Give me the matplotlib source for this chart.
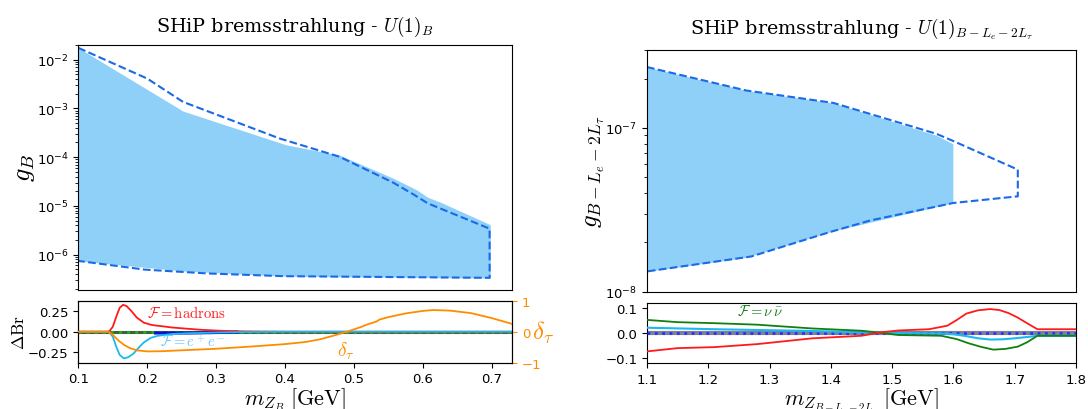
import numpy as np
import matplotlib
matplotlib.use("Agg")
import matplotlib.pyplot as plt

plt.rcParams['mathtext.fontset'] = 'cm'
plt.rcParams['font.family'] = ['DejaVu Sans']

# ---------------- data: left panel (U(1)_B) ----------------
ub_dash_m = [0.100, 0.200, 0.252, 0.392, 0.479, 0.557, 0.587, 0.607, 0.697]
ub_dash_g = [1.75e-2, 4.1e-3, 1.36e-3, 2.42e-4, 1.02e-4, 3.0e-5, 1.7e-5, 1.13e-5, 3.4e-6]
lb_dash_m = [0.697, 0.397, 0.287, 0.197, 0.100]
lb_dash_g = [3.33e-7, 3.6e-7, 4.1e-7, 4.9e-7, 7.4e-7]

fill_m = [0.100, 0.252, 0.402, 0.479, 0.557, 0.592, 0.607, 0.625, 0.698]
fill_up = [1.75e-2, 8.8e-4, 1.78e-4, 1.1e-4, 3.7e-5, 2.1e-5, 1.5e-5, 1.2e-5, 4.1e-6]
fill_lo = [7.4e-7, 4.6e-7, 3.6e-7, 3.5e-7, 3.45e-7, 3.4e-7, 3.4e-7, 3.35e-7, 3.3e-7]

had_m = [0.10, 0.140, 0.145, 0.150, 0.155, 0.160, 0.165, 0.170, 0.177, 0.185, 0.195,
         0.205, 0.212, 0.220, 0.235, 0.255, 0.280, 0.310, 0.340, 0.400, 0.730]
had_dbr = [0, 0, 0.005, 0.06, 0.18, 0.29, 0.325, 0.31, 0.25, 0.17, 0.11,
           0.085, 0.075, 0.068, 0.052, 0.038, 0.022, 0.010, 0.004, 0.0, 0.0]

ee_m = [0.10, 0.140, 0.145, 0.150, 0.155, 0.160, 0.166, 0.172, 0.180, 0.188, 0.195,
        0.205, 0.215, 0.235, 0.260, 0.300, 0.340, 0.400, 0.730]
ee_dbr = [0, 0, -0.005, -0.06, -0.18, -0.28, -0.322, -0.31, -0.265, -0.19, -0.13,
          -0.075, -0.05, -0.028, -0.018, -0.010, -0.004, 0, 0]

nu_m_left = [0.212, 0.260, 0.300, 0.330]
nu_dbr_left = [-0.016, -0.016, -0.010, -0.003]

dtau_m = [0.10, 0.143, 0.150, 0.158, 0.166, 0.175, 0.185, 0.200, 0.220, 0.250, 0.300,
          0.350, 0.400, 0.430, 0.450, 0.470, 0.490, 0.510, 0.520, 0.533, 0.537, 0.550,
          0.575, 0.600, 0.615, 0.640, 0.670, 0.700, 0.730]
dtau = [0, 0, -0.10, -0.28, -0.42, -0.53, -0.60, -0.635, -0.63, -0.60, -0.55,
        -0.48, -0.40, -0.33, -0.25, -0.13, 0.0, 0.15, 0.24, 0.33, 0.39, 0.47,
        0.59, 0.67, 0.70, 0.68, 0.60, 0.44, 0.25]

# ---------------- data: right panel (U(1)_{B-Le-2Ltau}) ----------------
r_ub_m = [1.100, 1.262, 1.404, 1.572, 1.600, 1.705]
r_ub_g = [2.35e-7, 1.69e-7, 1.42e-7, 9.2e-8, 8.3e-8, 5.56e-8]
r_lb_m = [1.705, 1.600, 1.464, 1.398, 1.270, 1.100]
r_lb_g = [3.82e-8, 3.48e-8, 2.72e-8, 2.31e-8, 1.64e-8, 1.33e-8]

r_fill_m = [1.100, 1.262, 1.404, 1.572, 1.599]
r_fill_up = [2.35e-7, 1.69e-7, 1.42e-7, 9.0e-8, 8.0e-8]
r_fill_lo = [1.33e-8, 1.62e-8, 2.35e-8, 3.3e-8, 3.48e-8]

r_nu_m = [1.10, 1.15, 1.21, 1.28, 1.37, 1.45, 1.48, 1.51, 1.58, 1.605, 1.625, 1.645,
          1.665, 1.685, 1.705, 1.72, 1.737, 1.80]
r_nu = [0.051, 0.042, 0.038, 0.032, 0.017, 0.008, 0.0, -0.009, -0.012, -0.025, -0.042,
        -0.056, -0.067, -0.064, -0.055, -0.038, -0.012, -0.012]

r_had_m = [1.10, 1.15, 1.21, 1.28, 1.37, 1.45, 1.48, 1.51, 1.56, 1.59, 1.605, 1.621,
           1.64, 1.66, 1.675, 1.69, 1.705, 1.72, 1.737, 1.80]
r_had = [-0.074, -0.061, -0.057, -0.045, -0.022, -0.012, 0.001, 0.009, 0.014, 0.028,
         0.05, 0.076, 0.089, 0.094, 0.09, 0.078, 0.06, 0.038, 0.014, 0.014]

r_ee_m = [1.10, 1.21, 1.37, 1.48, 1.58, 1.60, 1.62, 1.64, 1.66, 1.68, 1.70, 1.72, 1.737, 1.80]
r_ee = [0.020, 0.014, 0.007, 0.0, -0.003, -0.006, -0.013, -0.022, -0.027, -0.026,
        -0.022, -0.017, -0.012, -0.012]

left_xticks = [0.1, 0.2, 0.3, 0.4, 0.5, 0.6, 0.7]
right_xticks = [1.1, 1.2, 1.3, 1.4, 1.5, 1.6, 1.7, 1.8]

# ---------------- styles ----------------
FILL = '#8fd0f8'
DASH = '#1a6ae8'
RED = '#ff1a1a'
CYAN = '#1cb8f2'
ORANGE = '#ff8c00'
GREEN = '#118011'

fig = plt.figure(figsize=(10.88, 4.10), dpi=100)
axL = fig.add_axes([0.0720, 0.2910, 0.3989, 0.5975])
axLb = fig.add_axes([0.0720, 0.1129, 0.3989, 0.1512])
axR = fig.add_axes([0.5947, 0.2861, 0.3943, 0.5903])
axRb = fig.add_axes([0.5947, 0.1122, 0.3943, 0.1463])

TICKFS = 9.5
serif = {'family': 'DejaVu Serif', 'size': 13.8}

# ---- left top ----
axL.fill_between(fill_m, fill_lo, fill_up, color=FILL, lw=0)
axL.plot(ub_dash_m + lb_dash_m, ub_dash_g + lb_dash_g, ls='--', color=DASH, lw=1.5)
axL.set_yscale('log')
axL.set_xlim(0.1, 0.73)
axL.set_ylim(1.9e-7, 2.03e-2)
axL.set_xticks(left_xticks)
axL.tick_params(axis='x', bottom=False, labelbottom=False)
axL.tick_params(axis='y', labelsize=TICKFS)
axL.set_ylabel(r'$g_B$', fontsize=19, labelpad=0)
axL.set_title(r'SHiP bremsstrahlung - $U(1)_B$', fontdict=serif, pad=10)

# ---- left bottom ----
axLb.axhline(0, color='#3f5f3f', lw=2.2, zorder=2)
axLb.axhline(0, color='#22aa22', lw=2.2, ls=':', zorder=3)
axLb.plot(had_m, had_dbr, color=RED, lw=1.3, zorder=4)
axLb.plot(ee_m, ee_dbr, color=CYAN, lw=1.3, zorder=4)
axLb.plot(nu_m_left, nu_dbr_left, color='#1010d0', lw=2.2, zorder=3)
axLb.set_xlim(0.1, 0.73)
axLb.set_ylim(-0.375, 0.375)
axLb.set_yticks([-0.25, 0.0, 0.25])
axLb.set_yticklabels(['\u22120.25', '0.00', '0.25'])
axLb.set_xticks(left_xticks)
axLb.tick_params(labelsize=TICKFS)
axLb.set_ylabel(r'$\Delta\mathrm{Br}$', fontsize=12.5, labelpad=0)
axLb.set_xlabel(r'$m_{Z_B}\;[\mathrm{GeV}]$', fontsize=16, labelpad=0)
axLb.text(0.2, 0.24, r'$\mathcal{F} = \mathrm{hadrons}$', color=RED, fontsize=10.5,
          va='center', ha='left')
axLb.text(0.218, -0.11, r'$\mathcal{F} = e^+e^-$', color='#6cc6f6', fontsize=10.5,
          va='center', ha='left', zorder=6)

axT = axLb.twinx()
axT.plot(dtau_m, dtau, color=ORANGE, lw=1.3, zorder=5)
axT.set_ylim(-1, 1)
axT.set_yticks([-1, 0, 1])
axT.set_yticklabels(['\u22121', '0', '1'])
axT.tick_params(axis='y', colors=ORANGE, labelsize=TICKFS)
axT.set_ylabel(r'$\delta_\tau$', color=ORANGE, fontsize=18, rotation=0,
               labelpad=1, va='center')
axT.text(0.476, -0.60, r'$\delta_\tau$', color=ORANGE, fontsize=14, va='center', ha='left')

# ---- right top ----
axR.fill_between(r_fill_m, r_fill_lo, r_fill_up, color=FILL, lw=0)
axR.plot(r_ub_m + r_lb_m, r_ub_g + r_lb_g, ls='--', color=DASH, lw=1.5)
axR.set_yscale('log')
axR.set_xlim(1.1, 1.8)
axR.set_ylim(1e-8, 3.0e-7)
axR.set_xticks(right_xticks)
axR.tick_params(axis='x', bottom=False, labelbottom=False)
axR.tick_params(axis='y', labelsize=TICKFS)
axR.set_ylabel(r'$g_{B-L_e-2L_\tau}$', fontsize=18, labelpad=-1)
axR.set_title(r'SHiP bremsstrahlung - $U(1)_{B-L_e-2L_\tau}$', fontdict=serif, pad=12)

# ---- right bottom ----
axRb.axhline(0, color='#7f7f9a', lw=3.0, zorder=2)
axRb.axhline(0, color='#2233ff', lw=2.0, ls=':', zorder=3)
axRb.plot(r_ee_m, r_ee, color=CYAN, lw=1.5, zorder=4)
axRb.plot(r_nu_m, r_nu, color=GREEN, lw=1.3, zorder=4)
axRb.plot(r_had_m, r_had, color=RED, lw=1.3, zorder=4)
axRb.set_xlim(1.1, 1.8)
axRb.set_ylim(-0.12, 0.118)
axRb.set_yticks([-0.1, 0.0, 0.1])
axRb.set_yticklabels(['\u22120.1', '0.0', '0.1'])
axRb.set_xticks(right_xticks)
axRb.tick_params(labelsize=TICKFS)
axRb.set_xlabel(r'$m_{Z_{B-L_e-2L_\tau}}\;[\mathrm{GeV}]$', fontsize=16, labelpad=0)
axRb.text(1.246, 0.087, r'$\mathcal{F} = \nu\,\bar{\nu}$', color=GREEN, fontsize=10.5,
          va='center', ha='left')

fig.savefig('out.png', dpi=100)
